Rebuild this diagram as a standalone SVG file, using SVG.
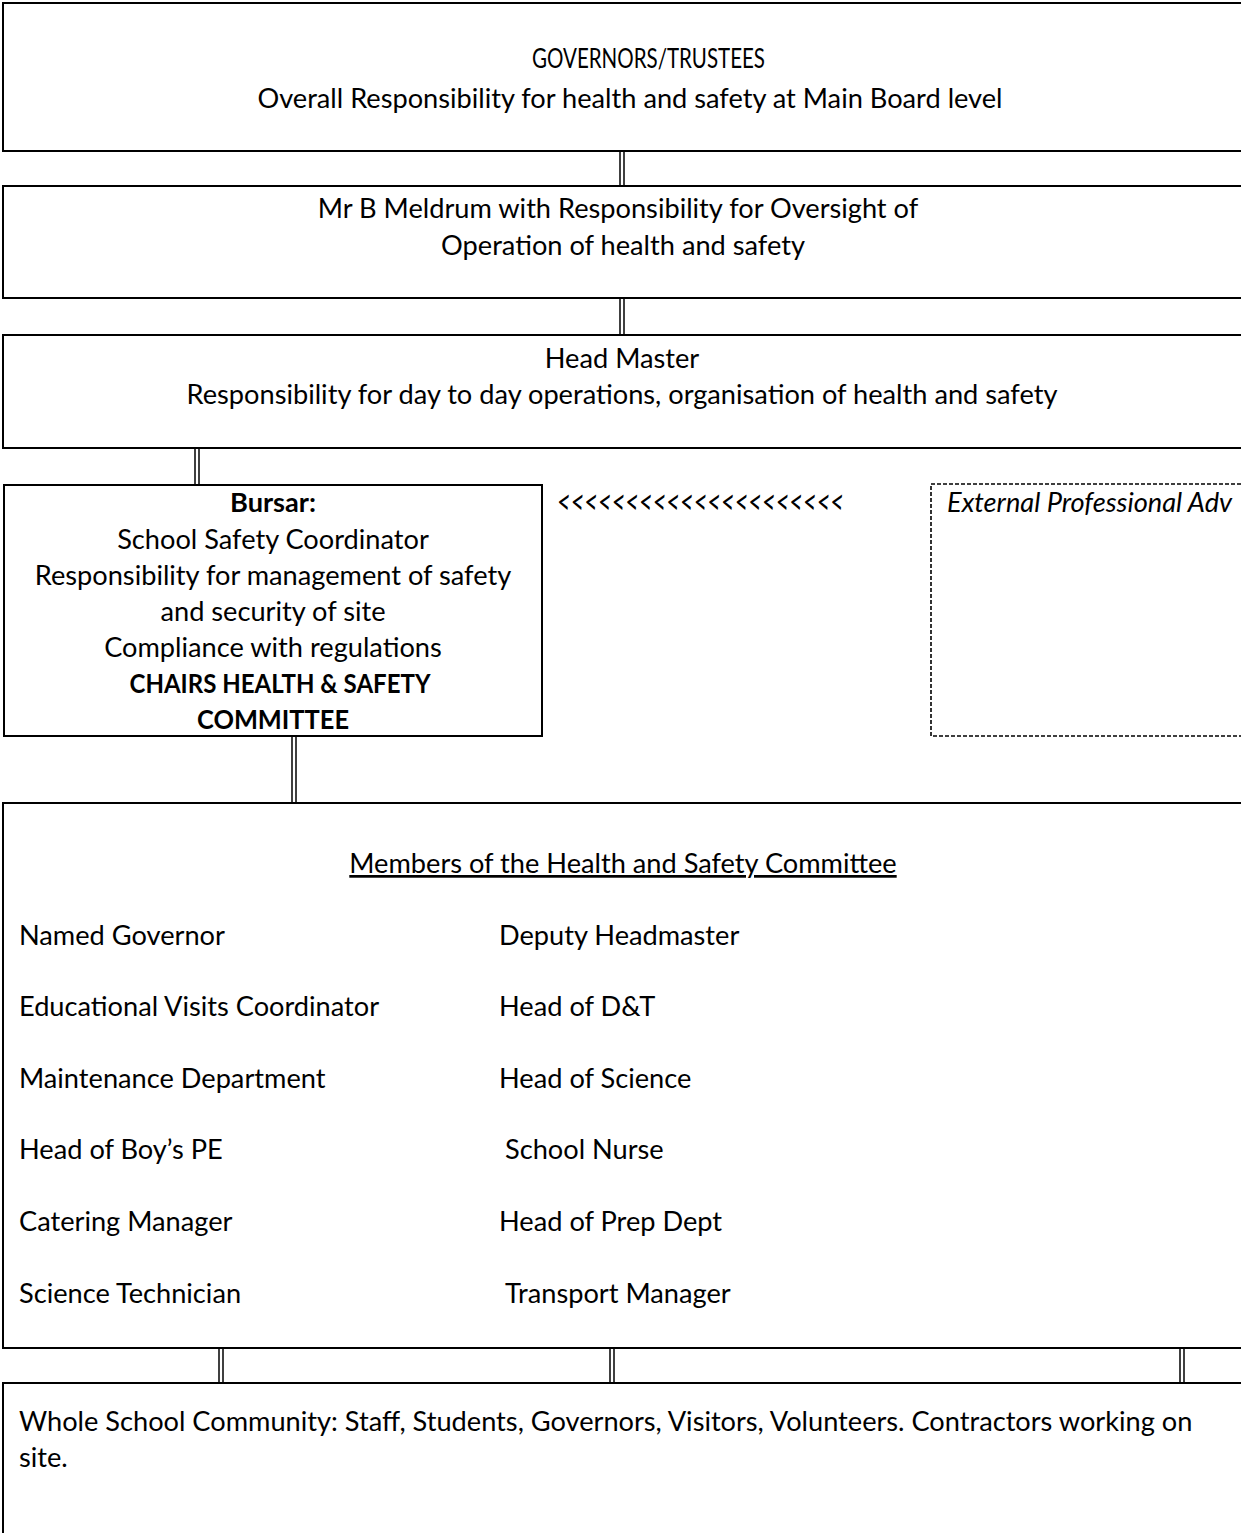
<svg xmlns="http://www.w3.org/2000/svg" width="1241" height="1533" viewBox="0 0 1241 1533">
<style>
.box{fill:#fff;stroke:#000;stroke-width:2}
.dash{fill:#fff;stroke:#000;stroke-width:1.6;stroke-dasharray:4 2}
.t{font-family:Lato,"Liberation Sans",sans-serif;font-size:27.2px;fill:#000}
.c{text-anchor:middle}
.b{font-weight:bold}
.i{font-style:italic}
.conn line{stroke:#000;stroke-width:1.5}
</style>
<rect width="1241" height="1533" fill="#fff"/>
<g id="connectors" class="conn">
<line x1="620" y1="151" x2="620" y2="185"/><line x1="624" y1="151" x2="624" y2="185"/>
<line x1="620" y1="298" x2="620" y2="335"/><line x1="624" y1="298" x2="624" y2="335"/>
<line x1="195" y1="448" x2="195" y2="485"/><line x1="199" y1="448" x2="199" y2="485"/>
<line x1="292" y1="736" x2="292" y2="803"/><line x1="296" y1="736" x2="296" y2="803"/>
<line x1="219" y1="1348" x2="219" y2="1383"/><line x1="223" y1="1348" x2="223" y2="1383"/>
<line x1="610" y1="1348" x2="610" y2="1383"/><line x1="614" y1="1348" x2="614" y2="1383"/>
<line x1="1180" y1="1348" x2="1180" y2="1383"/><line x1="1184" y1="1348" x2="1184" y2="1383"/>
<text class="t i" x="557" y="514" style="font-size:34px" textLength="287" lengthAdjust="spacingAndGlyphs">&lt;&lt;&lt;&lt;&lt;&lt;&lt;&lt;&lt;&lt;&lt;&lt;&lt;&lt;&lt;&lt;&lt;&lt;&lt;&lt;&lt;</text>
</g>
<g id="governors">
<rect class="box" x="3" y="3" width="1250" height="148"/>
<text class="t" x="532" y="68" textLength="233" lengthAdjust="spacingAndGlyphs">GOVERNORS/TRUSTEES</text>
<text class="t c" x="630" y="108">Overall Responsibility for health and safety at Main Board level</text>
</g>
<g id="meldrum">
<rect class="box" x="3" y="186" width="1250" height="112"/>
<text class="t c" x="618" y="218">Mr B Meldrum with Responsibility for Oversight of</text>
<text class="t c" x="623" y="255">Operation of health and safety</text>
</g>
<g id="headmaster">
<rect class="box" x="3" y="335" width="1250" height="113"/>
<text class="t c" x="622" y="368">Head Master</text>
<text class="t c" x="622" y="404">Responsibility for day to day operations, organisation of health and safety</text>
</g>
<g id="bursar">
<rect class="box" x="4" y="485" width="538" height="251"/>
<text class="t c b" x="273" y="512">Bursar:</text>
<text class="t c" x="273" y="549">School Safety Coordinator</text>
<text class="t c" x="273" y="585">Responsibility for management of safety</text>
<text class="t c" x="273" y="621">and security of site</text>
<text class="t c" x="273" y="657">Compliance with regulations</text>
<text class="t c b" x="280" y="693" textLength="301" lengthAdjust="spacingAndGlyphs">CHAIRS HEALTH &amp; SAFETY</text>
<text class="t c b" x="273" y="729" textLength="152" lengthAdjust="spacingAndGlyphs">COMMITTEE</text>
</g>
<g id="external">
<rect class="dash" x="931" y="484" width="330" height="252"/>
<text class="t i" x="947" y="512">External Professional Adv</text>
</g>
<g id="members">
<rect class="box" x="3" y="803" width="1250" height="545"/>
<text class="t c" x="623" y="873" text-decoration="underline">Members of the Health and Safety Committee</text>
<text class="t" x="19" y="945">Named Governor</text>
<text class="t" x="499" y="945">Deputy Headmaster</text>
<text class="t" x="19" y="1016">Educational Visits Coordinator</text>
<text class="t" x="499" y="1016">Head of D&amp;T</text>
<text class="t" x="19" y="1088">Maintenance Department</text>
<text class="t" x="499" y="1088">Head of Science</text>
<text class="t" x="19" y="1159">Head of Boy’s PE</text>
<text class="t" x="505" y="1159">School Nurse</text>
<text class="t" x="19" y="1231">Catering Manager</text>
<text class="t" x="499" y="1231">Head of Prep Dept</text>
<text class="t" x="19" y="1303">Science Technician</text>
<text class="t" x="505" y="1303">Transport Manager</text>
</g>
<g id="community">
<rect class="box" x="3" y="1383" width="1250" height="170"/>
<text class="t" x="19" y="1431">Whole School Community: Staff, Students, Governors, Visitors, Volunteers. Contractors working on</text>
<text class="t" x="19" y="1467">site.</text>
</g>
</svg>
